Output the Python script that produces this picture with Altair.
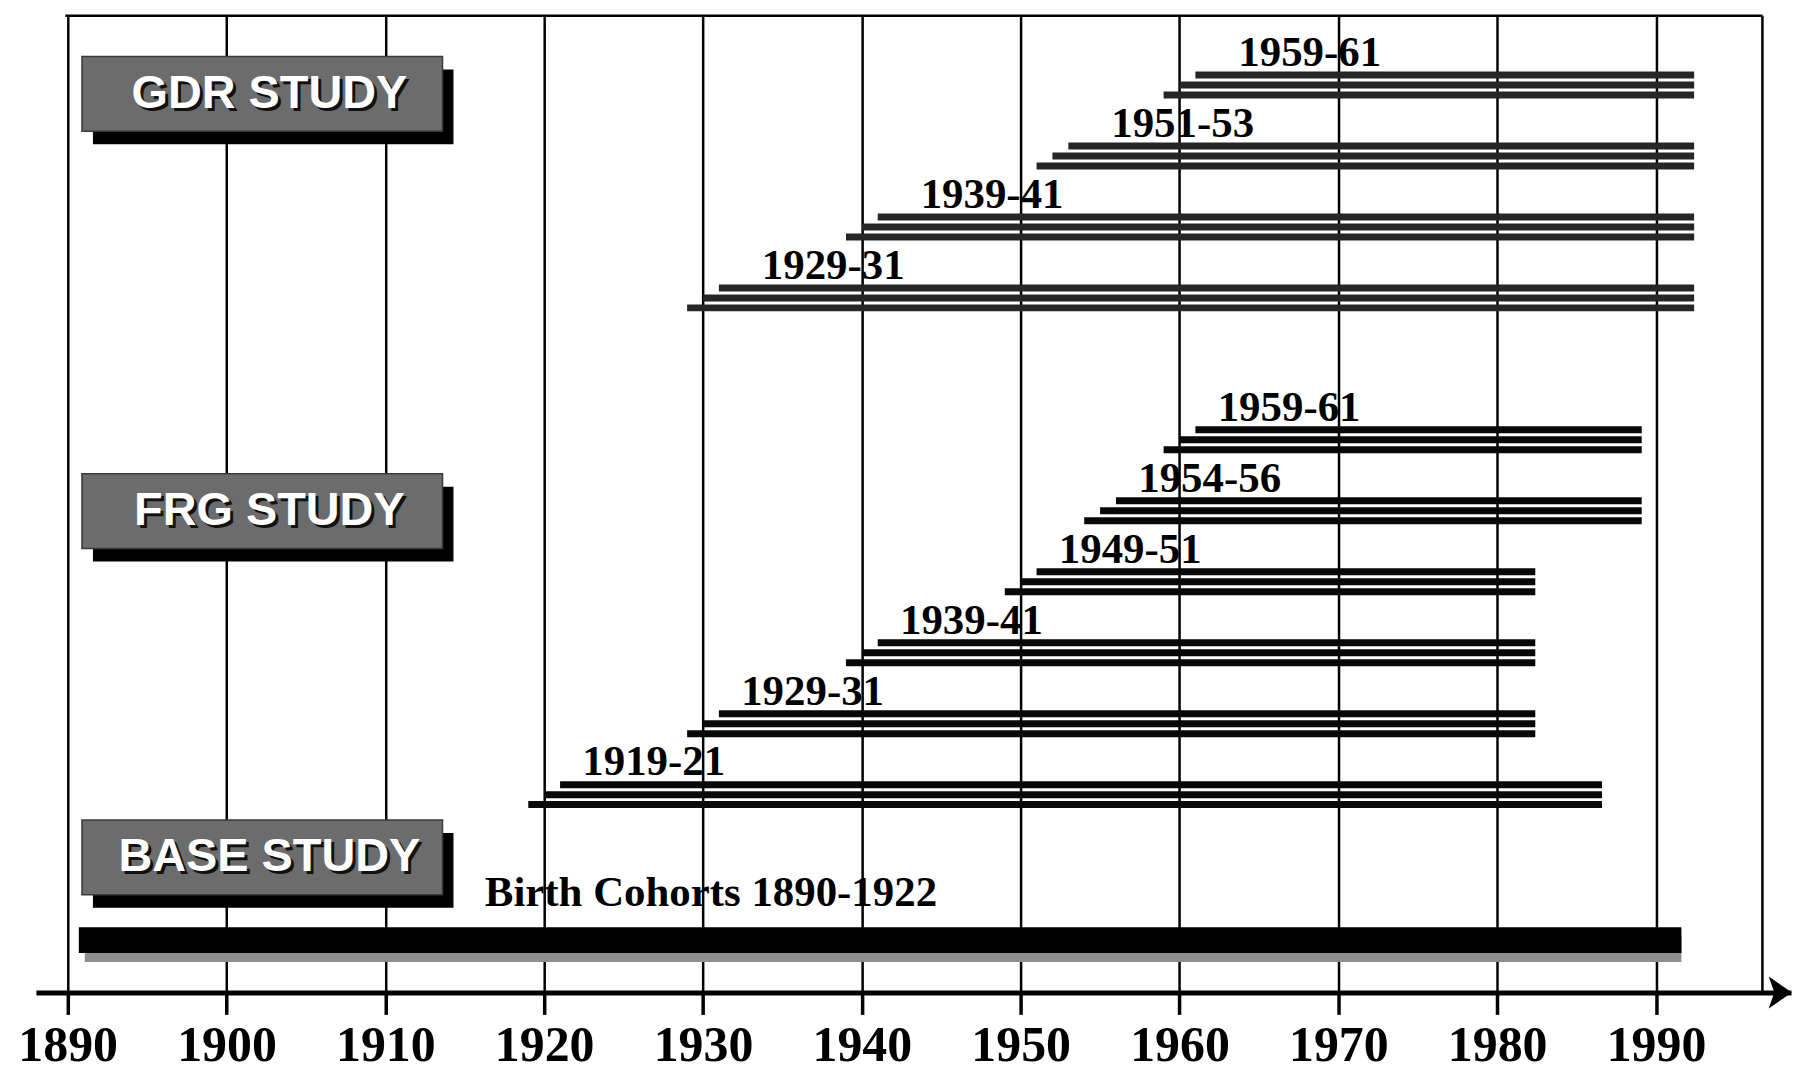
import altair as alt
import pandas as pd

# ---------------- data ----------------
studies = ["GDR", "GDR", "GDR", "GDR", "FRG", "FRG", "FRG", "FRG", "FRG", "FRG"]
cohorts = ["1959-61", "1951-53", "1939-41", "1929-31",
           "1959-61", "1954-56", "1949-51", "1939-41", "1929-31", "1919-21"]
first_year = [1959, 1951, 1939, 1929, 1959, 1954, 1949, 1939, 1929, 1919]
end_year = [1992.4, 1992.4, 1992.4, 1992.4, 1989.1, 1989.1, 1982.4, 1982.4, 1982.4, 1986.6]
rows = [0, 1, 2, 3, 5, 6, 7, 8, 9, 10]

base_label = ["Birth Cohorts 1890-1922"]
base_start = [1890.7]
base_end = [1991.6]
base_row = [12.05]

study_names = ["GDR STUDY", "FRG STUDY", "BASE STUDY"]
study_rows = [0.126, 6.004, 10.885]

tick_years = list(range(1890, 1991, 10))

# ---------------- layout constants ----------------
GAP = 0.1405          # vertical spacing of the three lines of a cohort (rows)
Y_TOP, Y_BOT = -0.976, 12.788
X_MIN, X_MAX = 1888, 1998.5

line_recs = []
for s, c, f, e, r in zip(studies, cohorts, first_year, end_year, rows):
    for k in range(3):
        line_recs.append({"study": s, "cohort": c, "start": f + k, "end": e,
                          "y": r + (1 - k) * GAP})
lines_df = pd.DataFrame(line_recs)
labels_df = pd.DataFrame({"study": studies, "cohort": cohorts,
                          "first": first_year, "row": rows})
base_df = pd.DataFrame({"label": base_label, "start": base_start,
                        "end": base_end, "row": base_row})
study_df = pd.DataFrame({"name": study_names, "row": study_rows})
one_df = pd.DataFrame({"a": [0]})

xs = alt.Scale(domain=[X_MIN, X_MAX], nice=False, zero=False)
ys = alt.Scale(domain=[Y_TOP, Y_BOT], reverse=True, nice=False, zero=False)

x_axis = alt.Axis(values=tick_years, grid=True, gridColor="black", gridWidth=2.5,
                  gridOpacity=1, domainColor="black", domainWidth=5,
                  tickColor="black", tickWidth=3.5, tickSize=22,
                  labelFont="Liberation Serif", labelFontWeight="bold",
                  labelFontSize=50, labelColor="black", labelPadding=6,
                  labelFlush=False, labelOverlap=False, format="d", title=None)


def X(field=None, datum=None):
    if datum is not None:
        return alt.X(datum=datum, type="quantitative", scale=xs, axis=x_axis)
    return alt.X(field, type="quantitative", scale=xs, axis=x_axis)


def Y(field=None, datum=None):
    if datum is not None:
        return alt.Y(datum=datum, type="quantitative", scale=ys, axis=None)
    return alt.Y(field, type="quantitative", scale=ys, axis=None)


# frame (top and right edges)
frame_top = alt.Chart(one_df).mark_rule(color="black", strokeWidth=2.5).encode(
    x=X(datum=1889.85), x2=alt.datum(1996.7), y=Y(datum=Y_TOP),
)
frame_right = alt.Chart(one_df).mark_rule(color="black", strokeWidth=2.5).encode(
    x=X(datum=1996.7), y=Y(datum=Y_TOP), y2=alt.datum(Y_BOT),
)

# cohort lines
cohort_lines = alt.Chart(lines_df).mark_rule(strokeWidth=7, strokeCap="butt").encode(
    x=X("start"), x2="end:Q", y=Y("y"),
    color=alt.Color("study:N", scale=alt.Scale(domain=["GDR", "FRG"],
                                               range=["#262626", "#080808"]),
                    legend=None),
)

cohort_labels = alt.Chart(labels_df).transform_calculate(
    lx="datum.first + 2 + (datum.study == 'GDR' ? 7.2 : 5.9)",
    ly="datum.row - 0.27",
).mark_text(font="Liberation Serif", fontWeight="bold", fontSize=43,
            baseline="alphabetic", align="center", color="black").encode(
    x=X("lx"), y=Y("ly"), text="cohort:N",
)

# base study bar with hatched shadow
base_shadow = alt.Chart(base_df).mark_rule(strokeWidth=26, color="#8e8e8e",
                                           strokeCap="butt", xOffset=6, yOffset=9).encode(
    x=X("start"), x2="end:Q", y=Y("row"),
)
base_bar = alt.Chart(base_df).mark_rule(strokeWidth=26, color="black",
                                        strokeCap="butt").encode(
    x=X("start"), x2="end:Q", y=Y("row"),
)
base_text = alt.Chart(base_df).transform_calculate(
    lx="1930.5", ly="datum.row - 0.484",
).mark_text(font="Liberation Serif", fontWeight="bold", fontSize=43,
            baseline="alphabetic", align="center", color="black").encode(
    x=X("lx"), y=Y("ly"), text="label:N",
)

# study name boxes
box_base = alt.Chart(study_df).transform_calculate(
    y0="datum.row - 0.527", y1="datum.row + 0.527")
box_shadow = box_base.mark_rect(color="black", xOffset=11, x2Offset=11,
                                yOffset=13, y2Offset=13).encode(
    x=X(datum=1890.9), x2=alt.datum(1913.6), y=Y("y0"), y2="y1:Q",
)
box = box_base.mark_rect(color="#6c6c6c", stroke="#3a3a3a", strokeWidth=1.5).encode(
    x=X(datum=1890.9), x2=alt.datum(1913.6), y=Y("y0"), y2="y1:Q",
)
box_text_shadow = alt.Chart(study_df).mark_text(
    font="Liberation Sans", fontWeight="bold", fontSize=47, baseline="middle",
    align="center", color="#111111", dx=3, dy=3).encode(
    x=X(datum=1902.7), y=Y("row"), text="name:N",
)
box_text = alt.Chart(study_df).mark_text(
    font="Liberation Sans", fontWeight="bold", fontSize=47, baseline="middle",
    align="center", color="white").encode(
    x=X(datum=1902.7), y=Y("row"), text="name:N",
)

# arrow head at the end of the time axis
arrow = alt.Chart(one_df).mark_point(
    shape="M -0.7 -1 L 0.75 0 L -0.7 1 L -0.35 0 Z", filled=True, size=1024,
    color="black", opacity=1).encode(
    x=X(datum=1997.8), y=Y(datum=Y_BOT),
)

chart = alt.layer(
    frame_top, frame_right, cohort_lines, cohort_labels,
    base_shadow, base_bar, base_text,
    box_shadow, box, box_text_shadow, box_text, arrow,
).properties(
    width=1761, height=980,
    autosize=alt.AutoSizeParams(type="none"),
    padding={"left": 28, "top": 6, "right": 2, "bottom": 79},
    background="white",
).configure_view(stroke=None)

chart.save("out.html", embed_options={"renderer": "svg", "actions": False})
